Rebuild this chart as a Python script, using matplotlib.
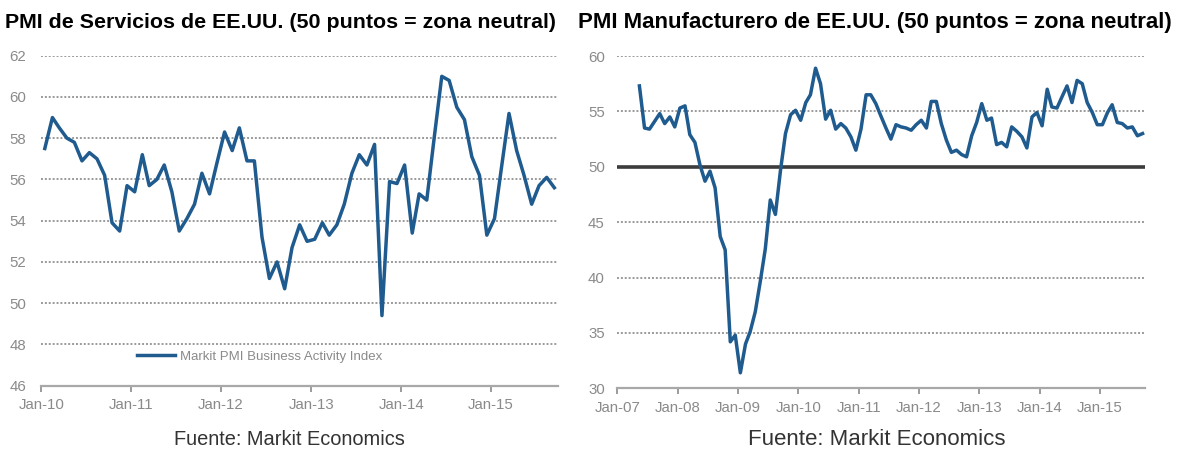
import matplotlib
matplotlib.use("Agg")
import matplotlib.pyplot as plt
import matplotlib.dates as mdates
import pandas as pd

# Markit PMI Business Activity Index (services), Jan-2010 .. Sep-2015
services = [57.5, 59.0, 58.5, 58.0, 57.8, 56.9, 57.3, 57.0, 56.2, 53.9,
            53.5, 55.7, 55.4, 57.2, 55.7, 56.0, 56.7, 55.4, 53.5, 54.1,
            54.8, 56.3, 55.3, 56.8, 58.3, 57.4, 58.5, 56.9, 56.9, 53.2,
            51.2, 52.0, 50.7, 52.7, 53.8, 53.0, 53.1, 53.9, 53.3, 53.8,
            54.8, 56.3, 57.2, 56.7, 57.7, 49.4, 55.9, 55.8, 56.7, 53.4,
            55.3, 55.0, 58.0, 61.0, 60.8, 59.5, 58.9, 57.1, 56.2, 53.3,
            54.1, 56.8, 59.2, 57.4, 56.2, 54.8, 55.7, 56.1, 55.6]
services_start = "2010-01-01"

# Markit manufacturing PMI, May-2007 .. Sep-2015
manufacturing = [57.3, 53.5, 53.4, 54.1, 54.8, 53.9, 54.5, 53.6, 55.3, 55.5,
                 52.9, 52.2, 50.2, 48.7, 49.6, 48.1, 43.7, 42.5, 34.2, 34.8,
                 31.4, 34.0, 35.1, 36.9, 39.6, 42.6, 47.0, 45.7, 49.7, 53.0,
                 54.7, 55.1, 54.2, 55.8, 56.5, 58.9, 57.5, 54.3, 55.1, 53.4,
                 53.9, 53.5, 52.7, 51.5, 53.4, 56.5, 56.5, 55.7, 54.6, 53.5,
                 52.5, 53.8, 53.6, 53.5, 53.3, 53.8, 54.2, 53.5, 55.9, 55.9,
                 53.9, 52.4, 51.3, 51.5, 51.1, 50.9, 52.8, 54.0, 55.7, 54.2,
                 54.4, 52.0, 52.2, 51.8, 53.6, 53.2, 52.7, 51.7, 54.5, 54.9,
                 53.7, 57.0, 55.4, 55.3, 56.3, 57.3, 55.8, 57.8, 57.5, 55.8,
                 54.9, 53.8, 53.8, 54.9, 55.6, 54.0, 53.9, 53.5, 53.6, 52.8,
                 53.0]
manufacturing_start = "2007-05-01"

services_title = "PMI de Servicios de EE.UU. (50 puntos = zona neutral)"
manufacturing_title = "PMI Manufacturero de EE.UU. (50 puntos = zona neutral)"
source_text = "Fuente: Markit Economics"
legend_label = "Markit PMI Business Activity Index"

line_color = "#1f5b8e"
tick_color = "#8a8a8a"
grid_color = "#9a9a9a"

plt.rcParams["font.family"] = ["Liberation Sans", "DejaVu Sans"]

def monthly(start, values):
    # plot each month in the middle of the month
    return pd.date_range(start, periods=len(values), freq="MS") + pd.Timedelta(days=14)

def style_axis(ax, ymin, ymax, ystep, xstart, xend, ypad):
    ax.set_ylim(ymin, ymax)
    ax.set_yticks(range(ymin, ymax + 1, ystep))
    ax.set_xlim(pd.Timestamp(xstart), pd.Timestamp(xend))
    ax.xaxis.set_major_locator(mdates.YearLocator())
    ax.xaxis.set_major_formatter(mdates.DateFormatter("%b-%y"))
    for side in ["top", "right", "left"]:
        ax.spines[side].set_visible(False)
    ax.spines["bottom"].set_color("#a8a8a8")
    ax.spines["bottom"].set_linewidth(1.6)
    ax.tick_params(axis="x", colors=tick_color, length=4, width=1.2,
                   labelsize=10.8, pad=5)
    ax.tick_params(axis="y", colors=tick_color, length=0, labelsize=10.8, pad=ypad)
    ax.grid(axis="y", color=grid_color, linestyle=(0, (1, 1)), linewidth=1.4)
    ax.set_axisbelow(True)

fig = plt.figure(figsize=(11.78, 4.51), dpi=100)

# Left: services
ax1 = fig.add_axes([0.0351, 0.1448, 0.4386, 0.7317])
ax1.plot(monthly(services_start, services), services, color=line_color,
         linewidth=2.5, solid_joinstyle="round", label=legend_label)
style_axis(ax1, 46, 62, 2, "2010-01-01", "2015-09-30", 11)
ax1.legend(loc="center left", bbox_to_anchor=(0.185, 0.087), frameon=False,
           fontsize=9.5, labelcolor=tick_color, handlelength=2.9,
           handletextpad=0.4, borderpad=0, borderaxespad=0)

# Right: manufacturing
ax2 = fig.add_axes([0.524, 0.139, 0.448, 0.7368])
ax2.plot(monthly(manufacturing_start, manufacturing), manufacturing,
         color=line_color, linewidth=2.5, solid_joinstyle="round")
style_axis(ax2, 30, 60, 5, "2007-01-01", "2015-09-30", 9)
ax2.axhline(50, color="#3c3c3c", linewidth=2.6, zorder=1.5)

# Titles and source notes
fig.text(0.004, 0.951, services_title, fontsize=15.4, fontweight="bold",
         va="center", ha="left")
fig.text(0.491, 0.951, manufacturing_title, fontsize=16, fontweight="bold",
         va="center", ha="left")
fig.text(0.246, 0.025, source_text, fontsize=14.4, color="#333333",
         ha="center", va="center")
fig.text(0.744, 0.025, source_text, fontsize=16, color="#333333",
         ha="center", va="center")

fig.savefig("out.png", dpi=100)
